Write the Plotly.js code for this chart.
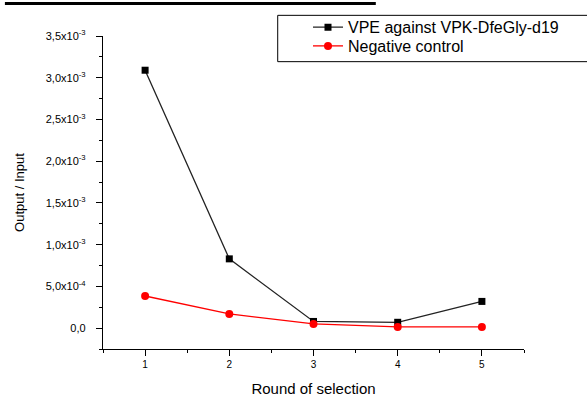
<!DOCTYPE html>
<html>
<head>
<meta charset="utf-8">
<script src="https://cdn.plot.ly/plotly-3.0.1.min.js"></script>
<style>
  html, body { margin: 0; padding: 0; background: #fff; }
  #chart { width: 587px; height: 397px; }
</style>
</head>
<body>
<div id="chart"></div>
<script>
// Selection rounds
const rounds = [1, 2, 3, 4, 5];

// Output / input ratios per round
const vpeValues = [3.09e-3, 0.83e-3, 0.08e-3, 0.07e-3, 0.32e-3];
const negValues = [0.385e-3, 0.17e-3, 0.05e-3, 0.015e-3, 0.015e-3];

// Series names
const vpeName = 'VPE against VPK-DfeGly-d19';
const negName = 'Negative control';

// Y tick labels (comma decimal, scientific notation)
const yTickVals = [0, 0.5e-3, 1.0e-3, 1.5e-3, 2.0e-3, 2.5e-3, 3.0e-3, 3.5e-3];
const yTickText = ['0,0', '5,0x10<sup>-4</sup>', '1,0x10<sup>-3</sup>', '1,5x10<sup>-3</sup>',
                   '2,0x10<sup>-3</sup>', '2,5x10<sup>-3</sup>', '3,0x10<sup>-3</sup>', '3,5x10<sup>-3</sup>'];

const font = 'Liberation Sans, Arial, sans-serif';
const legendFont = { family: font, size: 16, color: '#000000' };

const traces = [
  {
    x: rounds, y: vpeValues, name: vpeName, legend: 'legend',
    type: 'scatter', mode: 'lines+markers',
    line: { color: '#222222', width: 1.3 },
    marker: { symbol: 'square', size: 7, color: '#000000' }
  },
  {
    x: rounds, y: negValues, name: negName, legend: 'legend2',
    type: 'scatter', mode: 'lines+markers',
    line: { color: '#ff0000', width: 1.3 },
    marker: { symbol: 'circle', size: 8, color: '#ff0000' }
  }
];

// Legends are placed against the page so they do not push the margins
const layout = {
  width: 587, height: 397,
  margin: { l: 103, r: 63, t: 36, b: 48, autoexpand: false },
  paper_bgcolor: '#ffffff', plot_bgcolor: '#ffffff',
  font: { family: font, color: '#000000' },
  showlegend: true,
  legend: {
    xref: 'container', yref: 'container',
    x: 0.5247, y: 0.974, xanchor: 'left', yanchor: 'top',
    bgcolor: 'rgba(0,0,0,0)', borderwidth: 0, font: legendFont
  },
  legend2: {
    xref: 'container', yref: 'container',
    x: 0.5247, y: 0.927, xanchor: 'left', yanchor: 'top',
    bgcolor: 'rgba(0,0,0,0)', borderwidth: 0, font: legendFont
  },
  xaxis: {
    range: [0.5, 5.5],
    tickvals: rounds, ticktext: rounds.map(String),
    ticks: 'outside', ticklen: 6, tickwidth: 1, tickcolor: '#000',
    minor: { dtick: 0.5, tick0: 0.5, ticks: 'outside', ticklen: 3, tickwidth: 1, tickcolor: '#000', showgrid: false },
    showline: true, linecolor: '#000', linewidth: 1.2,
    showgrid: false, zeroline: false,
    tickfont: { family: font, size: 10, color: '#000' },
    title: { text: 'Round of selection', font: { family: font, size: 15, color: '#000' }, standoff: 14 }
  },
  yaxis: {
    range: [-0.25e-3, 3.5e-3],
    tickvals: yTickVals, ticktext: yTickText,
    ticks: 'outside', ticklen: 6, tickwidth: 1, tickcolor: '#000',
    ticklabelstandoff: 8,
    minor: { dtick: 0.25e-3, tick0: 0, ticks: 'outside', ticklen: 3, tickwidth: 1, tickcolor: '#000', showgrid: false },
    showline: true, linecolor: '#000', linewidth: 1.2,
    showgrid: false, zeroline: false,
    tickfont: { family: font, size: 11, color: '#000' },
    title: { text: 'Output / Input', font: { family: font, size: 13, color: '#000' }, standoff: 18 }
  },
  shapes: [
    // legend frame running off the right edge
    { type: 'rect', xref: 'paper', yref: 'paper', x0: 0.415, x1: 1.2, y0: 0.918, y1: 1.066,
      line: { color: '#000', width: 1 }, fillcolor: 'rgba(0,0,0,0)' },
    // heavy rule along the top edge
    { type: 'line', xref: 'paper', yref: 'paper', x0: -0.233, x1: 0.648, y0: 1.104, y1: 1.104,
      line: { color: '#000', width: 3 } }
  ]
};

Plotly.newPlot('chart', traces, layout, { staticPlot: true, displayModeBar: false });
</script>
</body>
</html>
